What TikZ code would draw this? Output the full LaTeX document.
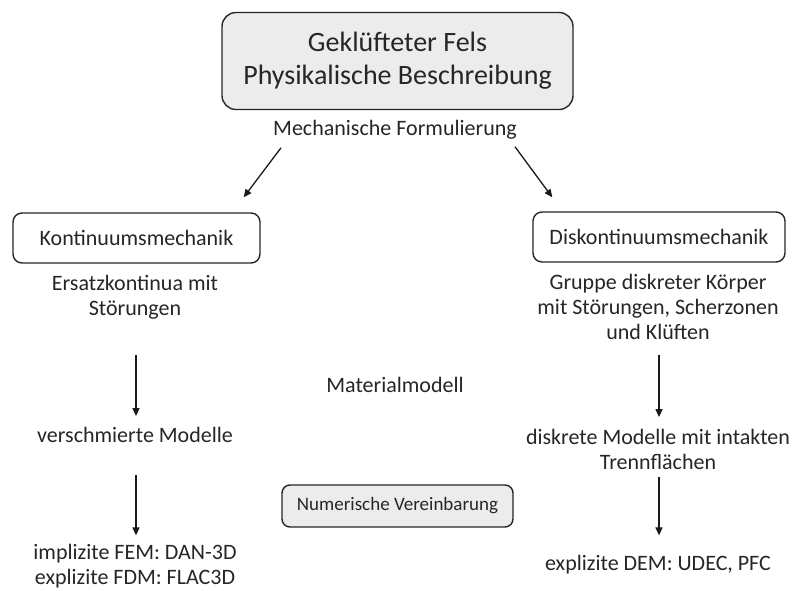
\documentclass[tikz,border=0pt]{standalone}
\usepackage{fontspec}
\setmainfont{Carlito}
\usetikzlibrary{arrows.meta}
\definecolor{boxgray}{HTML}{ECECEC}
\definecolor{txt}{HTML}{262626}
\tikzset{
  body/.style={inner sep=0pt, align=center, text=txt, font=\fontsize{22}{25}\selectfont},
  rbox/.style={draw=black!85, line width=1.4pt, rounded corners=9pt, inner sep=0pt, align=center, text=txt},
  arr/.style={line width=1.3pt, draw=black!90, -{Triangle[length=8pt,width=7pt]}}
}
\begin{document}
\begin{tikzpicture}[x=1pt,y=-1pt]
\fill[white] (0,0) rectangle (792,590);
\useasboundingbox (0,0) rectangle (792,590);

\node[rbox, fill=boxgray, rounded corners=14pt, minimum width=351pt, minimum height=97pt,
      font=\fontsize{28}{33}\selectfont] (top) at (397.5,61) {Geklüfteter Fels\\Physikalische Beschreibung};
\node[body] (mech) at (395,130) {Mechanische Formulierung};

\node[rbox, minimum width=247pt, minimum height=50pt, font=\fontsize{22}{25}\selectfont] (konti) at (136.5,238) {Kontinuumsmechanik};
\node[rbox, minimum width=252pt, minimum height=50pt, font=\fontsize{22}{25}\selectfont] (disk) at (659,237) {Diskontinuumsmechanik};

\node[body] (ers) at (135,297.5) {Ersatzkontinua mit\\Störungen};
\node[body] (grp) at (658,307) {Gruppe diskreter Körper\\mit Störungen, Scherzonen\\und Klüften};

\node[body] (verm) at (135,435) {verschmierte Modelle};
\node[body] (impl) at (135,566.5) {implizite FEM: DAN-3D\\explizite FDM: FLAC3D};

\node[body] (mat) at (395,385) {Materialmodell};
\node[rbox, fill=boxgray, minimum width=231pt, minimum height=42pt, rounded corners=8pt,
      font=\fontsize{19}{22}\selectfont] (num) at (397.5,506) {Numerische Vereinbarung};

\node[body] (diskm) at (658,449.5) {diskrete Modelle mit intakten\\Trennflächen};
\node[body] (expl) at (658,565) {explizite DEM: UDEC, PFC};

\draw[arr] ([xshift=8pt,yshift=-8pt]mech.south west) -- ([xshift=-17pt,yshift=15pt]konti.north east);
\draw[arr] ([xshift=-2pt,yshift=-7pt]mech.south east) -- ([xshift=20pt,yshift=14pt]disk.north west);

\draw[arr, shorten <=35pt, shorten >=11pt] ([xshift=1pt]ers.south) -- ([xshift=1pt]verm.north);
\draw[arr, shorten <=32pt, shorten >=9pt] ([xshift=1pt]verm.south) -- ([xshift=1pt]impl.north);
\draw[arr, shorten <=15pt, shorten >=12pt] ([xshift=1pt]grp.south) -- ([xshift=1pt]diskm.north);
\draw[arr, shorten <=7pt, shorten >=20pt] ([xshift=1pt]diskm.south) -- ([xshift=1pt]expl.north);
\end{tikzpicture}
\end{document}
